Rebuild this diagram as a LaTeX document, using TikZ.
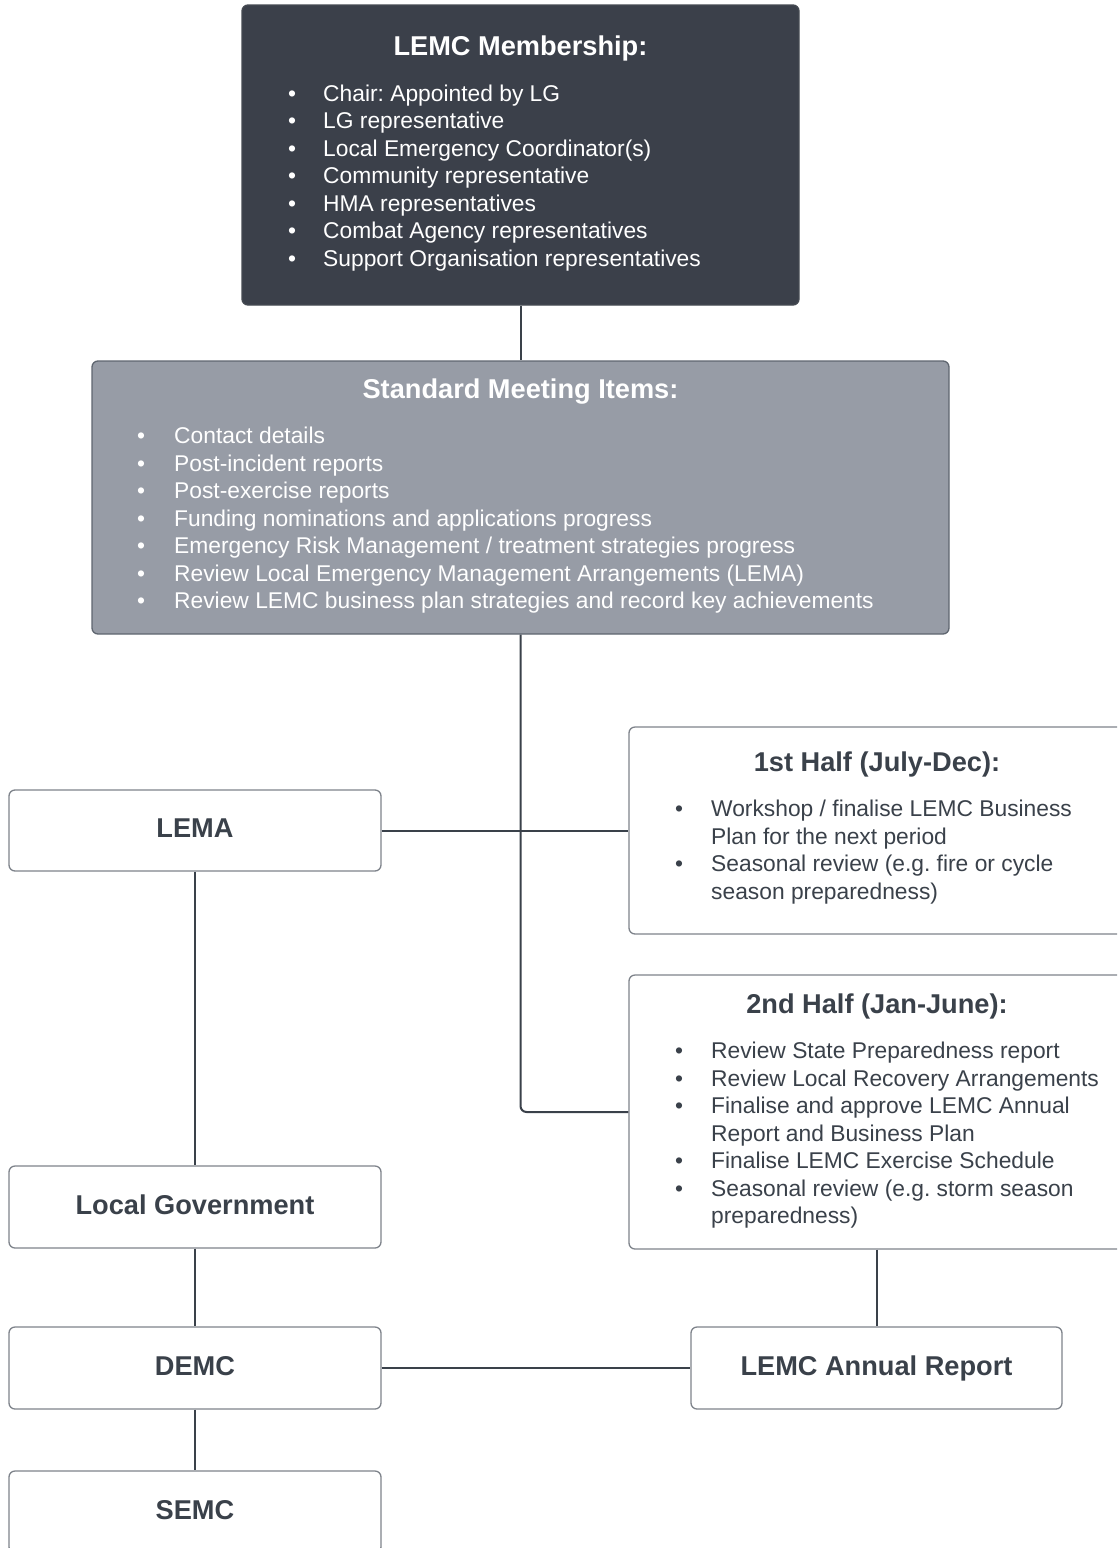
\documentclass[tikz,border=0pt]{standalone}
\usepackage{fontspec}
\setmainfont{Liberation Sans}
\frenchspacing
\definecolor{darkbox}{HTML}{3B404A}
\definecolor{graybox}{HTML}{979CA6}
\definecolor{grayedge}{HTML}{5F6670}
\definecolor{txt}{HTML}{3A414A}
\definecolor{boxline}{HTML}{7E838B}
\definecolor{lineclr}{HTML}{3A414A}
\begin{document}
\begin{tikzpicture}[x=1pt,y=-1pt,
  box/.style={draw=boxline, line width=1.3pt, rounded corners=6pt, inner sep=0pt, fill=white},
  lbl/.style={font=\fontsize{27.2}{32}\selectfont\bfseries, text=txt, text height=19.3pt, text depth=5.3pt},
  ttl/.style={anchor=base, inner sep=0pt, font=\fontsize{27.2}{32}\selectfont\bfseries},
  item/.style={anchor=base west, inner sep=0pt, font=\fontsize{22.8}{27.5}\selectfont},
  conn/.style={draw=lineclr, line width=2pt, rounded corners=6pt}]
\clip (0,0) rectangle (1117,1548);
\useasboundingbox (0,0) rectangle (1117,1548);

% boxes
\node[box, fill=darkbox, draw=darkbox!85!gray, minimum width=557, minimum height=300] (mem) at (520.5,155) {};
\node[box, fill=graybox, draw=grayedge, minimum width=857, minimum height=273] (std) at (520.5,497.5) {};
\node[box, minimum width=496, minimum height=207] (h1) at (877,830.5) {};
\node[box, minimum width=496, minimum height=274] (h2) at (877,1112) {};
\node[box, lbl, minimum width=372, minimum height=81] (lema) at (195,830.5) {LEMA};
\node[box, lbl, minimum width=372, minimum height=82] (lg) at (195,1207) {Local Government};
\node[box, lbl, minimum width=372, minimum height=82] (demc) at (195,1368) {DEMC};
\node[box, lbl, minimum width=372, minimum height=82] (semc) at (195,1512) {SEMC};
\node[box, lbl, minimum width=371, minimum height=82] (ar) at (876.5,1368) {LEMC Annual Report};

% connectors
\draw[conn] (mem.south) -- (std.north);
\draw[conn] (std.south) |- (h2.west);
\draw[conn] (lema.east) -- (h1.west);
\draw[conn] (lema.south) -- (lg.north);
\draw[conn] (lg.south) -- (demc.north);
\draw[conn] (demc.south) -- (semc.north);
\draw[conn] (demc.east) -- (ar.west);
\draw[conn] (h2.south) -- (h2.south |- ar.north);

% LEMC Membership
\node[ttl, text=white] (memt) at (520.5,55.5) {LEMC Membership:};
\foreach \t [count=\i] in {{Chair: Appointed by LG},{LG representative},{Local Emergency Coordinator(s)},{Community representative},{HMA representatives},{Combat Agency representatives},{Support Organisation representatives}}{
  \node[item, text=white] (mb\i) at (288,101+27.5*\i-27.5) {•};
  \node[item, text=white] (mi\i) at (323,101+27.5*\i-27.5) {\t};
}

% Standard Meeting Items
\node[ttl, text=white] (stdt) at (520.5,398.5) {Standard Meeting Items:};
\foreach \t [count=\i] in {{Contact details},{Post-incident reports},{Post-exercise reports},{Funding nominations and applications progress},{Emergency Risk Management / treatment strategies progress},{Review Local Emergency Management Arrangements (LEMA)},{Review LEMC business plan strategies and record key achievements}}{
  \node[item, text=white] (sb\i) at (137,443.5+27.5*\i-27.5) {•};
  \node[item, text=white] (si\i) at (174,443.5+27.5*\i-27.5) {\t};
}

% 1st Half
\node[ttl, text=txt] (h1t) at (877,771.5) {1st Half (July-Dec):};
\foreach \t [count=\i] in {{Workshop / finalise LEMC Business},{Plan for the next period},{Seasonal review (e.g. fire or cycle},{season preparedness)}}{
  \node[item, text=txt] (fi\i) at (711,816.5+27.5*\i-27.5) {\t};
}
\foreach \i in {1,3}{
  \node[item, text=txt] (fb\i) at (675,816.5+27.5*\i-27.5) {•};
}

% 2nd Half
\node[ttl, text=txt] (h2t) at (877,1013.5) {2nd Half (Jan-June):};
\foreach \t [count=\i] in {{Review State Preparedness report},{Review Local Recovery Arrangements},{Finalise and approve LEMC Annual},{Report and Business Plan},{Finalise LEMC Exercise Schedule},{Seasonal review (e.g. storm season},{preparedness)}}{
  \node[item, text=txt] (ki\i) at (711,1058.5+27.5*\i-27.5) {\t};
}
\foreach \i in {1,2,3,5,6}{
  \node[item, text=txt] (kb\i) at (675,1058.5+27.5*\i-27.5) {•};
}
\end{tikzpicture}
\end{document}
